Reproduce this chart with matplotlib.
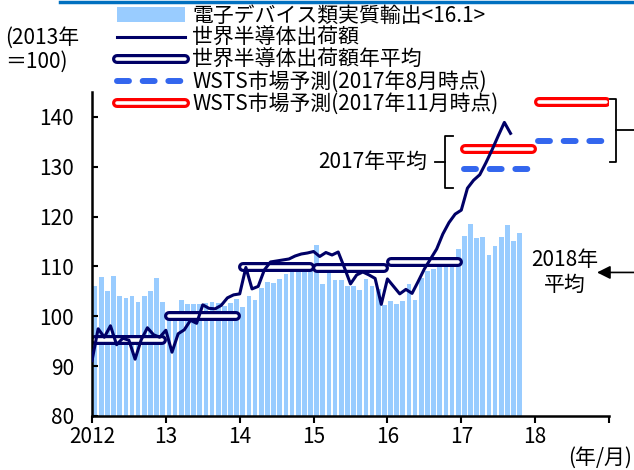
import numpy as np
import matplotlib

matplotlib.use("Agg")
import matplotlib.pyplot as plt
import matplotlib.patheffects as pe
from matplotlib.lines import Line2D
from matplotlib.patches import Patch

plt.rcParams["font.family"] = ["Noto Sans CJK JP", "DejaVu Sans"]

# monthly data, Jan 2012 onward (2013 = 100)
export_vals = [
    106.1, 107.8, 105.1, 108.0, 104.1, 103.7, 104.0, 102.8, 104.0, 105.1, 107.6, 102.9,
    99.8, 100.2, 103.3, 102.4, 102.5, 102.4, 102.7, 102.8, 102.6, 102.1, 102.6, 103.5,
    101.8, 104.1, 103.2, 105.6, 106.9, 106.7, 107.4, 108.5, 108.8, 109.9, 110.0, 110.4,
    114.3, 106.5, 110.0, 107.2, 107.3, 106.1, 106.1, 105.2, 107.4, 106.1, 105.5, 102.2,
    103.0, 102.5, 103.1, 106.4, 103.3, 107.6, 109.0, 109.4, 110.2, 111.0, 111.4, 113.5,
    116.2, 118.6, 115.8, 115.9, 112.3, 114.2, 115.9, 118.4, 115.1, 116.7,
]
chip_vals = [
    91.1, 97.5, 95.8, 98.1, 94.3, 95.6, 95.2, 91.4, 95.3, 97.7, 96.3, 95.8,
    97.2, 92.8, 96.5, 97.3, 99.2, 98.6, 102.3, 101.6, 101.5, 102.2, 103.7, 104.3,
    104.5, 109.8, 105.5, 106.0, 109.3, 110.9, 111.1, 111.3, 111.5, 112.1, 112.5, 112.7,
    113.0, 112.0, 112.8, 112.3, 112.9, 109.8, 106.5, 108.3, 108.9, 108.3, 107.6, 102.4,
    107.5, 106.0, 104.5, 105.4, 104.6, 107.0, 109.5, 111.5, 113.5, 116.5, 118.8, 120.5,
    121.3, 125.7, 127.3, 128.4, 130.8, 133.4, 136.2, 138.9, 136.7,
]
avg_years = [2012, 2013, 2014, 2015, 2016]
avg_vals = [95.3, 100.0, 109.9, 109.6, 110.8]
wsts_years = [2017, 2018]
wsts_aug = [129.6, 135.2]
wsts_nov = [133.6, 143.0]
year_labels = ["2012", "13", "14", "15", "16", "17", "18", ""]

BAR = "#99CCFF"
NAVY = "#000066"
BLUE = "#3366EE"
RED = "#FF0000"
FS = 15


def boxed(color):
    # white core with a coloured outline -> the hollow bars of the original
    return dict(color="white", lw=2.6, solid_capstyle="round",
                path_effects=[pe.Stroke(linewidth=7.2, foreground=color, capstyle="round"),
                              pe.Normal()])


dash_kw = dict(color=BLUE, lw=4.3, dashes=(2, 2.3), dash_capstyle="round")

fig = plt.figure(figsize=(6.34, 4.70), dpi=100)
ax = fig.add_axes([92 / 634, 1 - 416 / 470, (609 - 92) / 634, (416 - 92) / 470])

x_bar = np.arange(len(export_vals)) + 0.5
ax.bar(x_bar, export_vals, width=0.76, color=BAR, zorder=1)

for yr, v in zip(avg_years, avg_vals):
    x0 = (yr - 2012) * 12
    ax.plot([x0 + 0.55, x0 + 11.45], [v, v], zorder=2, **boxed(NAVY))

for yr, va, vn in zip(wsts_years, wsts_aug, wsts_nov):
    x0 = (yr - 2012) * 12
    ax.plot([x0 + 0.4, x0 + 11.6], [va, va], zorder=2, **dash_kw)
    ax.plot([x0 + 0.55, x0 + 11.45], [vn, vn], zorder=2, **boxed(RED))

ax.plot(np.arange(len(chip_vals)), chip_vals, color=NAVY, lw=2.2, zorder=3)

ax.set_xlim(0, 84)
ax.set_ylim(80, 145)
ax.set_xticks(np.arange(0, 85, 12))
ax.set_xticklabels(year_labels)
ax.set_yticks(np.arange(80, 141, 10))
for s in ("top", "right"):
    ax.spines[s].set_visible(False)
for s in ("left", "bottom"):
    ax.spines[s].set_linewidth(1.8)
ax.tick_params(axis="y", direction="in", length=4, width=1.5, pad=13, labelsize=FS)
ax.tick_params(axis="x", direction="out", length=5, width=1.5, pad=2, labelsize=FS)

# brackets + notes
kw = dict(color="black", lw=1.3, clip_on=False)
t17, b17 = wsts_nov[0] + 2.6, wsts_aug[0] - 3.9
ax.plot([58.6, 57.3, 57.3, 58.6], [t17, t17, b17, b17], **kw)
ax.plot([55.7, 57.3], [(t17 + b17) / 2] * 2, **kw)
ax.text(54.5, (t17 + b17) / 2, "2017年平均", ha="right", va="center", fontsize=FS)

t18, b18 = wsts_nov[1] + 0.6, wsts_aug[1] - 4.2
ax.plot([84.1, 85.2, 85.2, 84.1], [t18, t18, b18, b18], **kw)
ax.plot([85.2, 88.5], [(t18 + b18) / 2] * 2, **kw)

ax.text(76.8, 108.8, "2018年\n平均", ha="center", va="center", fontsize=FS,
        linespacing=1.2)
ax.annotate("", xy=(81.6, 108.8), xytext=(88.5, 108.8), annotation_clip=False,
            arrowprops=dict(arrowstyle="-|>", color="black", lw=1.2, mutation_scale=20))

handles = [
    Patch(facecolor=BAR),
    Line2D([], [], color=NAVY, lw=2.2),
    Line2D([], [], **boxed(NAVY)),
    Line2D([], [], **dash_kw),
    Line2D([], [], **boxed(RED)),
]
labels = ["電子デバイス類実質輸出<16.1>", "世界半導体出荷額", "世界半導体出荷額年平均",
          "WSTS市場予測(2017年8月時点)", "WSTS市場予測(2017年11月時点)"]
fig.legend(handles, labels, loc="upper left", bbox_to_anchor=(117 / 634, 1 - 5 / 470),
           frameon=False, fontsize=FS, handlelength=3.25, handletextpad=0.35,
           labelspacing=0.0, borderpad=0, borderaxespad=0)

fig.text(5 / 634, 1 - 38 / 470, "(2013年", ha="left", va="center", fontsize=FS)
fig.text(5 / 634, 1 - 62 / 470, "＝100)", ha="left", va="center", fontsize=FS)
fig.text(632 / 634, 1 - 458 / 470, "(年/月)", ha="right", va="center", fontsize=FS)
fig.add_artist(Line2D([60 / 634, 1], [1 - 1.5 / 470] * 2, transform=fig.transFigure,
                      color="#0070C0", lw=2.5))

fig.savefig("out.png", dpi=100)
